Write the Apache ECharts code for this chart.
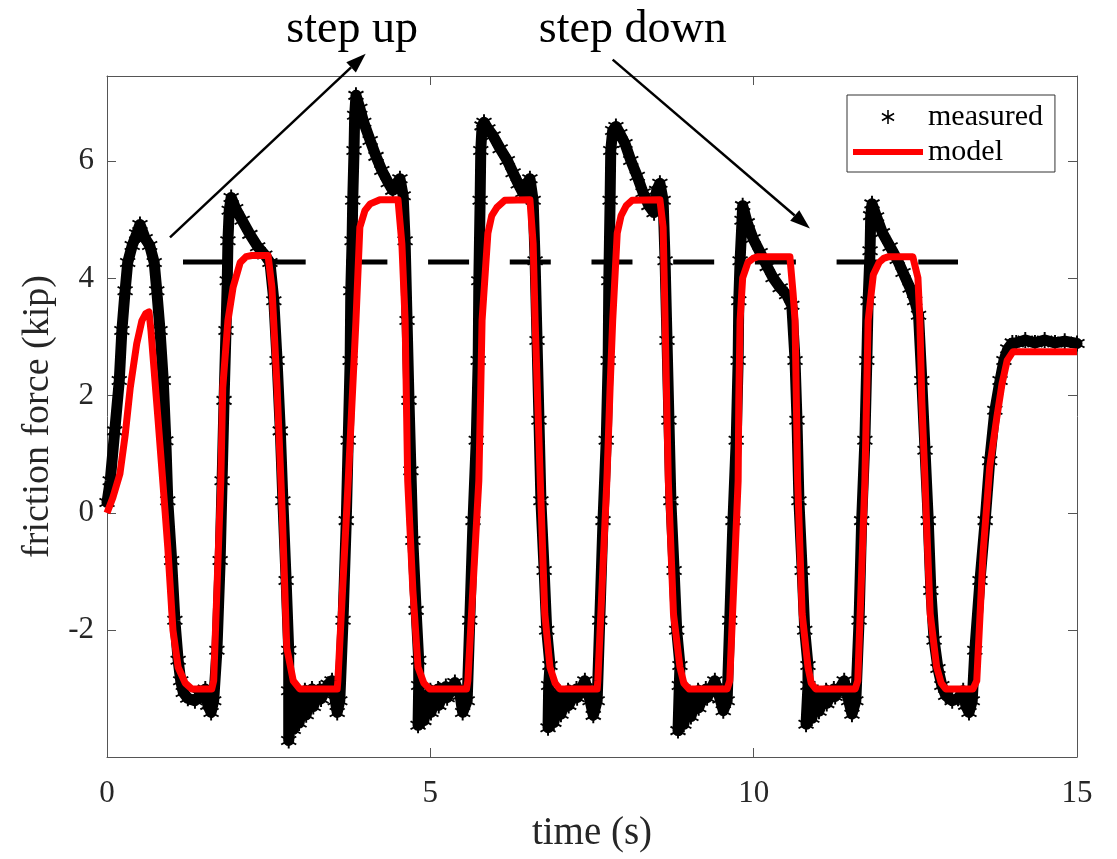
<!DOCTYPE html>
<html>
<head>
<meta charset="utf-8">
<script src="https://cdn.jsdelivr.net/npm/echarts@6/dist/echarts.min.js"></script>
<style>
  html, body { margin: 0; padding: 0; background: #fff; }
  #chart { width: 1117px; height: 859px; }
</style>
</head>
<body>
<div id="chart"></div>
<script>
// model (red line), time in s / force in kip
const modelT = [
  0, 0.09, 0.2, 0.28, 0.36, 0.46, 0.54, 0.6, 0.65, 0.68,
  0.79, 0.9, 0.94, 1.02, 1.1, 1.21, 1.31, 1.62, 1.65, 1.76,
  1.79, 1.87, 1.95, 2.06, 2.15, 2.24, 2.49, 2.55, 2.63, 2.71,
  2.78, 2.88, 2.98, 3.56, 3.57, 3.73, 3.8, 3.85, 3.91, 3.99,
  4.07, 4.22, 4.5, 4.56, 4.61, 4.65, 4.73, 4.81, 4.9, 4.99,
  5.56, 5.58, 5.75, 5.78, 5.8, 5.89, 5.95, 6.03, 6.15, 6.54,
  6.59, 6.62, 6.7, 6.77, 6.85, 6.93, 7.0, 7.58, 7.59, 7.73,
  7.78, 7.82, 7.89, 7.95, 8.03, 8.12, 8.55, 8.6, 8.63, 8.68,
  8.76, 8.86, 8.92, 9.0, 9.59, 9.63, 9.76, 9.77, 9.79, 9.83,
  9.91, 9.99, 10.07, 10.56, 10.61, 10.64, 10.68, 10.75, 10.84, 10.89,
  10.96, 11.57, 11.61, 11.72, 11.77, 11.85, 11.94, 12.01, 12.09, 12.46,
  12.54, 12.57, 12.6, 12.65, 12.68, 12.73, 12.83, 12.9, 12.97, 13.39,
  13.45, 13.55, 13.65, 13.76, 13.84, 13.92, 14.01, 15.0
];
const modelY = [
  0, 0.26, 0.67, 1.32, 2.14, 2.89, 3.28, 3.4, 3.43, 3.11,
  1.58, 0, -0.59, -2.0, -2.63, -2.9, -3.0, -3.0, -2.86, 0.55,
  2.14, 3.28, 3.85, 4.27, 4.37, 4.39, 4.39, 3.85, 2.14, 0,
  -2.3, -2.86, -3.0, -3.0, -2.86, 0.55, 2.14, 3.28, 4.87, 5.16,
  5.27, 5.34, 5.34, 4.59, 3.28, 0.55, -1.32, -2.63, -2.9, -3.0,
  -3.0, -2.86, 0.55, 2.14, 3.28, 4.77, 5.07, 5.21, 5.33, 5.34,
  4.59, 3.28, 0.55, -1.72, -2.63, -2.9, -3.0, -3.0, -2.86, 0.55,
  2.14, 3.28, 4.77, 5.07, 5.24, 5.33, 5.34, 4.87, 3.28, 0.55,
  -1.72, -2.63, -2.9, -3.0, -3.0, -2.86, 0.55, 1.92, 3.28, 4.01,
  4.27, 4.34, 4.37, 4.37, 3.74, 3.28, 0.55, -1.72, -2.63, -2.9,
  -3.0, -3.0, -2.86, 0.55, 3.28, 4.06, 4.27, 4.34, 4.37, 4.37,
  4.01, 3.28, 1.92, 0.55, -0.35, -1.72, -2.63, -2.9, -3.0, -3.0,
  -2.86, -0.64, 0.78, 1.63, 2.2, 2.6, 2.75, 2.75
];

// measured (black asterisks), one line per stretch of the record
const measT = [
  0, 0.05, 0.12, 0.19, 0.23, 0.28, 0.32, 0.39, 0.46, 0.51, 0.59, 0.66, 0.73, 0.77, 0.82, 0.87, 0.91, 0.94, 1.0, 1.05, 1.1, 1.14,
  1.18, 1.25, 1.36, 1.44, 1.52, 1.56, 1.61, 1.65,
  1.7, 1.75, 1.78, 1.81, 1.84, 1.86, 1.87, 1.89, 1.92, 1.99, 2.09, 2.21, 2.33, 2.44, 2.52, 2.58, 2.63, 2.68, 2.72, 2.77, 2.81,
  2.81, 2.81, 2.86, 2.88, 2.95, 2.97, 3.06, 3.08, 3.17, 3.19, 3.29, 3.31, 3.42, 3.48, 3.53, 3.56, 3.6,
  3.65, 3.7, 3.73, 3.76, 3.77, 3.79, 3.8, 3.82, 3.83, 3.85, 3.91, 3.97, 4.07, 4.16, 4.25, 4.35, 4.42, 4.48, 4.53, 4.58, 4.61, 4.64, 4.67, 4.7, 4.73, 4.78, 4.82,
  4.82, 4.81, 4.89, 4.9, 5.0, 5.01, 5.12, 5.13, 5.24, 5.26, 5.38, 5.46, 5.5, 5.57,
  5.61, 5.66, 5.71, 5.74, 5.75, 5.77, 5.78, 5.8, 5.83, 5.89, 5.97, 6.08, 6.19, 6.28, 6.36, 6.43, 6.5, 6.54, 6.59, 6.62, 6.65, 6.68, 6.71, 6.76, 6.8, 6.85,
  6.83, 6.82, 6.9, 6.91, 7.0, 7.02, 7.13, 7.14, 7.26, 7.27, 7.39, 7.47, 7.52, 7.58,
  7.62, 7.67, 7.72, 7.75, 7.76, 7.78, 7.79, 7.82, 7.87, 7.93, 8.01, 8.1, 8.2, 8.29, 8.38, 8.46, 8.5, 8.55, 8.6, 8.63, 8.66, 8.69, 8.72, 8.77, 8.81, 8.86,
  8.85, 8.83, 8.91, 8.92, 9.01, 9.03, 9.14, 9.15, 9.26, 9.28, 9.4, 9.48, 9.53, 9.59,
  9.63, 9.68, 9.73, 9.76, 9.77, 9.79, 9.82, 9.83, 9.9, 9.99, 10.1, 10.21, 10.3, 10.41, 10.51, 10.59, 10.64, 10.67, 10.7, 10.75, 10.79, 10.84,
  10.84, 10.81, 10.89, 10.9, 10.99, 11.01, 11.12, 11.13, 11.24, 11.26, 11.4, 11.47, 11.52, 11.58,
  11.63, 11.67, 11.72, 11.75, 11.77, 11.8, 11.81, 11.83, 11.9, 11.99, 12.11, 12.22, 12.31, 12.42, 12.49, 12.55, 12.6, 12.65, 12.7, 12.74, 12.79, 12.85,
  12.91, 12.97, 13.07, 13.16, 13.24, 13.28, 13.33, 13.38,
  13.42, 13.5, 13.58, 13.65, 13.73, 13.81, 13.87, 13.93, 14.0, 14.06, 14.2, 14.35, 14.5, 14.66, 14.81, 15.0
];
const measY = [
  0.18, 0.55, 1.4, 2.26, 3.11, 3.79, 4.27, 4.56, 4.76, 4.92, 4.68, 4.56, 4.27, 3.79, 3.11, 2.26, 1.23, 0.21, -0.81, -1.83, -2.51, -2.86,
  -3.06, -3.16, -3.2, -3.11, -3.0, -3.28, -3.4, -3.2,
  -2.34, -0.81, 0.55, 1.92, 3.11, 3.96, 4.64, 5.16, 5.38, 5.19, 4.99, 4.75, 4.54, 4.4, 4.27, 3.62, 2.6, 1.4, 0.21, -1.15, -2.34,
  -3.03, -3.88, -3.2, -3.69, -3.03, -3.58, -3.03, -3.44, -3.0, -3.3, -3.0, -3.17, -2.92, -2.86, -3.2, -3.4, -3.2,
  -1.83, -0.13, 1.24, 2.6, 3.79, 4.64, 5.33, 6.18, 6.78, 7.12, 6.9, 6.66, 6.35, 6.08, 5.84, 5.63, 5.5, 5.62, 5.7, 5.41, 4.64, 3.28, 1.92, 0.72, -0.47, -1.66, -2.51,
  -2.94, -3.62, -3.11, -3.54, -3.03, -3.4, -3.0, -3.28, -2.96, -3.15, -2.89, -3.11, -3.4, -3.2,
  -1.83, -0.13, 1.24, 2.6, 3.96, 5.33, 6.18, 6.6, 6.66, 6.55, 6.43, 6.21, 6.01, 5.8, 5.61, 5.46, 5.63, 5.7, 5.33, 4.3, 2.94, 1.58, 0.21, -0.98, -2.0, -2.6,
  -2.94, -3.66, -3.11, -3.57, -3.06, -3.43, -3.03, -3.28, -3.0, -3.15, -2.86, -3.2, -3.45, -3.2,
  -1.83, -0.13, 1.24, 2.6, 3.96, 5.33, 6.18, 6.52, 6.59, 6.47, 6.3, 6.01, 5.74, 5.46, 5.24, 5.12, 5.5, 5.62, 5.33, 4.3, 2.94, 1.58, 0.21, -0.98, -2.0, -2.6,
  -2.94, -3.71, -3.11, -3.6, -3.06, -3.47, -3.03, -3.32, -3.0, -3.15, -2.86, -3.17, -3.37, -3.2,
  -1.83, -0.13, 1.24, 2.6, 3.62, 4.3, 4.99, 5.24, 4.95, 4.68, 4.44, 4.2, 4.01, 3.84, 3.72, 3.54, 2.6, 1.58, 0.21, -0.98, -2.0, -2.6,
  -2.94, -3.6, -3.11, -3.5, -3.06, -3.38, -3.03, -3.25, -3.0, -3.13, -2.86, -3.2, -3.43, -3.2,
  -1.83, -0.13, 1.24, 2.6, 3.62, 4.47, 5.07, 5.27, 5.05, 4.78, 4.54, 4.32, 4.1, 3.83, 3.62, 3.37, 2.26, 1.07, -0.13, -1.32, -2.17, -2.65,
  -2.94, -3.11, -3.2, -3.16, -3.03, -3.28, -3.4, -3.2,
  -2.34, -1.15, -0.13, 0.89, 1.75, 2.26, 2.6, 2.8, 2.9, 2.9, 2.95, 2.9, 2.95, 2.9, 2.93, 2.89
];

// dashed reference level
const refT = [1.175, 13.16];
const refY = [4.28, 4.28];

const yTicks = [-2, 0, 2, 4, 6];

// annotations: label centre, arrow start, arrow tip (data coords)
const noteText = ['step up', 'step down'];
const noteLabel = [[3.79, 8.24], [8.13, 8.24]];
const noteFrom = [[0.974, 4.70], [7.82, 7.73]];
const noteTo = [[4.0, 7.83], [10.87, 4.85]];

const FONT = '"Liberation Serif", "Times New Roman", serif';
const ASTERISK = 'path://M9 1L11 1L11 19L9 19Z M17.29 4.63L18.29 6.37L2.71 15.37L1.71 13.63Z M18.29 13.63L17.29 15.37L1.71 6.37L2.71 4.63Z';
const BAR = 'path://M0 0L70 0L70 6L0 6Z';
const axisColor = '#555';
const textColor = '#262626';

const chart = echarts.init(document.getElementById('chart'));

const boxAxis = {
  type: 'value',
  axisLine: { show: true, onZero: false, lineStyle: { color: axisColor, width: 1 } },
  axisTick: { show: true, inside: true, length: 9, lineStyle: { color: axisColor } },
  splitLine: { show: false }
};

const option = {
  animation: false,
  backgroundColor: '#fff',
  grid: { left: 107, right: 40, top: 76, bottom: 102, containLabel: false, outerBoundsMode: 'none' },
  legend: {
    left: 847,
    top: 95,
    orient: 'vertical',
    backgroundColor: '#fff',
    borderColor: '#333',
    borderWidth: 1,
    borderRadius: 0,
    padding: [7, 12, 5, 6],
    itemWidth: 70,
    itemHeight: 14,
    itemGap: 5,
    textStyle: { fontFamily: FONT, fontSize: 30, color: '#000', lineHeight: 30 },
    data: [
      { name: 'measured', icon: ASTERISK },
      { name: 'model', icon: BAR }
    ]
  },
  xAxis: [
    Object.assign({}, boxAxis, {
      min: 0, max: 15, interval: 5,
      name: 'time (s)', nameLocation: 'middle', nameGap: 50,
      nameTextStyle: { fontFamily: FONT, fontSize: 39, color: textColor },
      axisLabel: { margin: 21, fontFamily: FONT, fontSize: 31, color: textColor }
    }),
    Object.assign({}, boxAxis, {
      position: 'top', min: 0, max: 15, interval: 5,
      axisLabel: { show: false }
    })
  ],
  yAxis: [
    Object.assign({}, boxAxis, {
      min: -4.16, max: 7.45,
      name: 'friction force (kip)', nameLocation: 'middle', nameGap: 47, nameRotate: 90,
      nameTextStyle: { fontFamily: FONT, fontSize: 38, color: textColor },
      axisTick: { show: true, inside: true, length: 9, lineStyle: { color: axisColor }, customValues: yTicks },
      axisLabel: { margin: 13, fontFamily: FONT, fontSize: 31, color: textColor, customValues: yTicks }
    }),
    Object.assign({}, boxAxis, {
      position: 'right', min: -4.16, max: 7.45,
      axisTick: { show: true, inside: true, length: 9, lineStyle: { color: axisColor }, customValues: yTicks },
      axisLabel: { show: false, customValues: yTicks }
    })
  ],
  series: [
    {
      name: 'reference',
      type: 'line',
      z: 1,
      silent: true,
      symbol: 'none',
      data: refT.map((t, i) => [t, refY[i]]),
      lineStyle: { color: '#000', width: 5, type: [41, 40.7], cap: 'butt' }
    },
    {
      name: 'measured',
      type: 'line',
      z: 2,
      data: measT.map((t, i) => [t, measY[i]]),
      symbol: ASTERISK,
      symbolSize: 16,
      showAllSymbol: true,
      itemStyle: { color: '#000' },
      lineStyle: { color: '#000', width: 11, cap: 'round', join: 'round' }
    },
    {
      name: 'model',
      type: 'line',
      z: 3,
      data: modelT.map((t, i) => [t, modelY[i]]),
      symbol: 'none',
      itemStyle: { color: '#ff0000' },
      lineStyle: { color: '#ff0000', width: 7, join: 'round' }
    }
  ]
};

chart.setOption(option);

// arrows and labels placed from data coordinates
const toPx = p => chart.convertToPixel({ gridIndex: 0 }, p);
const graphics = [];
noteText.forEach((txt, i) => {
  const a = toPx(noteFrom[i]);
  const b = toPx(noteTo[i]);
  const ang = Math.atan2(b[1] - a[1], b[0] - a[0]);
  const headLen = 20, headHalf = 7;
  const bx = b[0] - headLen * Math.cos(ang);
  const by = b[1] - headLen * Math.sin(ang);
  const nx = -Math.sin(ang), ny = Math.cos(ang);
  graphics.push({
    type: 'line', z: 100,
    shape: { x1: a[0], y1: a[1], x2: bx, y2: by },
    style: { stroke: '#000', lineWidth: 2.5 }
  });
  graphics.push({
    type: 'polygon', z: 100,
    shape: { points: [[b[0], b[1]], [bx + nx * headHalf, by + ny * headHalf], [bx - nx * headHalf, by - ny * headHalf]] },
    style: { fill: '#000' }
  });
  const c = toPx(noteLabel[i]);
  graphics.push({
    type: 'text', z: 100,
    x: c[0], y: c[1],
    style: { text: txt, fontFamily: FONT, fontSize: 46, fill: '#000', align: 'center', verticalAlign: 'middle' }
  });
});
chart.setOption({ graphic: graphics });
</script>
</body>
</html>
